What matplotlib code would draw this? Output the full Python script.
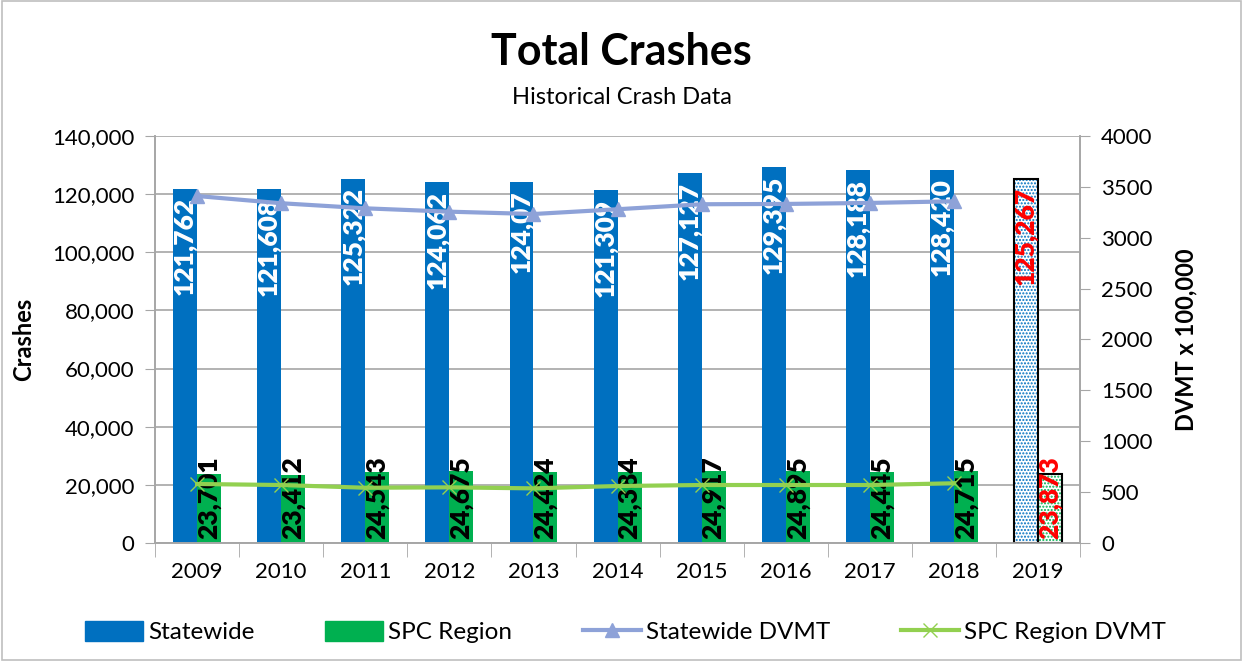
import numpy as np
import matplotlib.pyplot as plt
from matplotlib.patches import Patch, Rectangle
from matplotlib.lines import Line2D
from matplotlib.ticker import FuncFormatter

plt.rcParams['font.family'] = ['Lato', 'DejaVu Sans']

years = ['2009', '2010', '2011', '2012', '2013', '2014', '2015', '2016', '2017', '2018', '2019']
statewide = [121762, 121608, 125322, 124062, 124070, 121309, 127127, 129395, 128188, 128420, 125267]
statewide_labels = ['121,762', '121,608', '125,322', '124,062', '124,07', '121,309',
                    '127,127', '129,395', '128,188', '128,420', '125,267']
spc = [23701, 23412, 24543, 24675, 24424, 24384, 24917, 24895, 24445, 24715, 23873]
statewide_dvmt = [3410, 3339, 3289, 3256, 3233, 3280, 3329, 3332, 3342, 3358]
spc_dvmt = [580, 570, 543, 547, 537, 560, 570, 570, 570, 587]

blue = '#0070C0'
green = '#00B050'
line_blue = '#8EA2D8'
line_green = '#92D050'
grid_c = '#A6A6A6'

fig = plt.figure(figsize=(12.43, 6.61), dpi=100)
ax = fig.add_axes([0.1247, 0.1785, 0.7443, 0.6158])
ax2 = ax.twinx()

x = np.arange(len(years))
w = 0.285
n = len(years) - 1  # last year is projected

ax.bar(x[:n] - w / 2, statewide[:n], w, color=blue, zorder=2)
ax.bar(x[:n] + w / 2, spc[:n], w, color=green, zorder=2)
# projected year: dotted fill with black outline
ax.bar(x[n] - w / 2, statewide[n], w, color='white', edgecolor=blue, hatch='.....', linewidth=0, zorder=2)
ax.bar(x[n] + w / 2, spc[n], w, color='white', edgecolor=green, hatch='.....', linewidth=0, zorder=2)
ax.bar(x[n] - w / 2, statewide[n], w, fill=False, edgecolor='black', linewidth=1.5, zorder=3)
ax.bar(x[n] + w / 2, spc[n], w, fill=False, edgecolor='black', linewidth=1.5, zorder=3)

for i in range(len(years)):
    c1 = 'white' if i < n else 'red'
    c2 = 'black' if i < n else 'red'
    ax.annotate(statewide_labels[i], (x[i] - w / 2, statewide[i]), xytext=(0, -6),
                textcoords='offset points', rotation=90, ha='center', va='top',
                color=c1, fontsize=19, fontweight='heavy', zorder=5)
    ax.annotate(f'{spc[i]:,}', (x[i] + w / 2, 0), xytext=(0, 3),
                textcoords='offset points', rotation=90, ha='center', va='bottom',
                color=c2, fontsize=19, fontweight='heavy', zorder=5)

ax2.plot(x[:n], statewide_dvmt, color=line_blue, lw=3, marker='^', ms=10, zorder=4)
ax2.plot(x[:n], spc_dvmt, color=line_green, lw=3, marker='x', ms=10, mew=1, zorder=4)

ax.set_xlim(-0.5, len(years) - 0.5)
ax.set_ylim(0, 140000)
ax2.set_ylim(0, 4000)
ax.set_yticks(np.arange(0, 140001, 20000))
ax2.set_yticks(np.arange(0, 4001, 500))
ax.yaxis.set_major_formatter(FuncFormatter(lambda v, p: f'{int(v):,}'))
ax.set_xticks(x)
ax.set_xticklabels(years)
ax.set_xticks(np.arange(-0.5, len(years)), minor=True)
ax.tick_params(axis='x', which='major', length=0, labelsize=16, pad=14)
ax.tick_params(axis='x', which='minor', length=10, color=grid_c, direction='out')
ax.tick_params(axis='y', labelsize=16, length=7, color=grid_c, pad=8)
ax2.tick_params(axis='y', labelsize=16, length=7, color=grid_c, pad=8)

ax.grid(axis='y', color=grid_c, lw=1.2, zorder=0)
ax.set_axisbelow(True)
for a in (ax, ax2):
    a.spines['top'].set_visible(False)
    for s in ('left', 'right', 'bottom'):
        a.spines[s].set_color(grid_c)
        a.spines[s].set_linewidth(1.2)

ax.set_ylabel('Crashes', fontsize=17, fontweight='bold', labelpad=12)
ax2.set_ylabel('DVMT x 100,000', fontsize=17, fontweight='bold', labelpad=16)

fig.text(0.5, 0.922, 'Total Crashes', ha='center', va='center', fontsize=31, fontweight='bold')
fig.text(0.5, 0.852, 'Historical Crash Data', ha='center', va='center', fontsize=17)

handles = [Patch(color=blue), Patch(color=green),
           Line2D([], [], color=line_blue, lw=3, marker='^', ms=10),
           Line2D([], [], color=line_green, lw=3, marker='x', ms=10, mew=1)]
names = ['Statewide', 'SPC Region', 'Statewide DVMT', 'SPC Region DVMT']
fig.legend(handles, names, loc='center', bbox_to_anchor=(0.503, 0.044), ncol=4,
           frameon=False, fontsize=17.5, handlelength=2.4, handleheight=0.9,
           handletextpad=0.2, columnspacing=2.9)

fig.patches.append(Rectangle((0.002, 0.002), 0.996, 0.996, transform=fig.transFigure,
                             fill=False, edgecolor='#BFBFBF', lw=1.2))

fig.savefig('out.png', dpi=100)
